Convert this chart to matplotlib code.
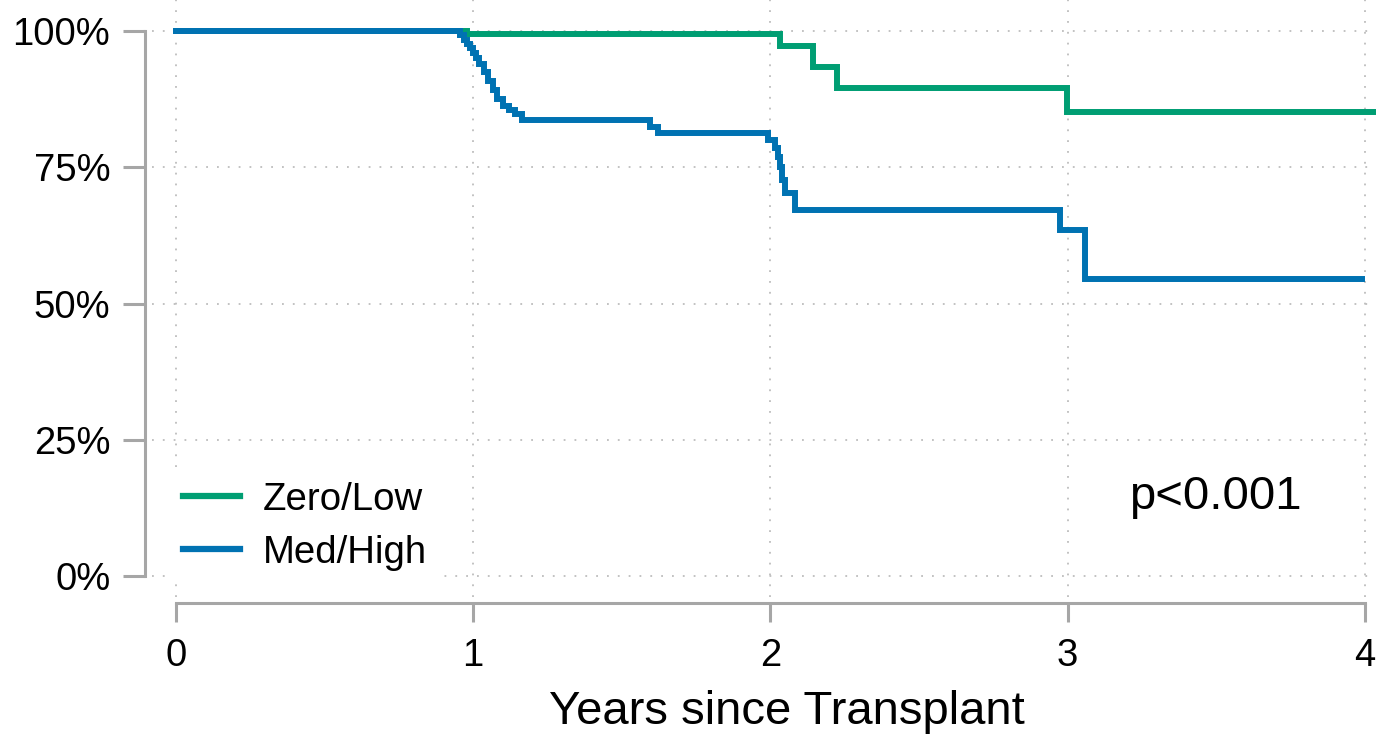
import matplotlib.pyplot as plt
from matplotlib.lines import Line2D

plt.rcParams['font.family'] = ['Liberation Sans', 'DejaVu Sans']

# Kaplan-Meier steps (years, % surviving)
green_t = [0, 0.98, 2.032, 2.143, 2.224, 2.998, 4.2]
green_s = [100, 99.5, 97.2, 93.4, 89.5, 85.1, 85.1]

blue_t = [0, 0.955, 0.97, 0.98, 0.99, 1.0, 1.01, 1.02, 1.035, 1.05, 1.065, 1.08, 1.10, 1.12, 1.14, 1.165,
          1.595, 1.62,
          1.992, 2.015, 2.025, 2.032, 2.039, 2.049, 2.082,
          2.974, 3.058, 3.99]
blue_s = [100, 99.2, 98.4, 97.6, 96.8, 95.9, 95.0, 94.0, 92.5, 90.8, 89.2, 87.6, 86.2, 85.5, 84.7, 83.6,
          82.4, 81.3,
          80.0, 78.5, 76.9, 75.0, 72.7, 70.3, 67.2,
          63.5, 54.5, 54.5]

groups = ['Zero/Low', 'Med/High']
colors = ['#009E73', '#0072B2']
x_ticks = [0, 1, 2, 3, 4]
y_ticks = [0, 25, 50, 75, 100]
y_labels = ['0%', '25%', '50%', '75%', '100%']

W, H = 1376, 737
fig = plt.figure(figsize=(W / 100, H / 100), dpi=100)
ax = fig.add_axes([152 / W, 1 - 597 / H, 1 - 152 / W, 597 / H])

ax.step(green_t, green_s, where='post', color=colors[0], lw=4.3, solid_joinstyle='miter')
ax.step(blue_t, blue_s, where='post', color=colors[1], lw=4.3, solid_joinstyle='miter')

ax.set_xlim((152 - 176) / 297.25, (W - 176) / 297.25)
ax.set_ylim((576 - 597) / 5.45, 576 / 5.45)

ax.set_xticks(x_ticks)
ax.set_yticks(y_ticks)
ax.set_yticklabels(y_labels)
ax.grid(True, color='#bdbdbd', lw=1.3, linestyle=(0, (1, 5)))
ax.set_axisbelow(True)

for s in ['top', 'right']:
    ax.spines[s].set_visible(False)
ax.spines['left'].set_position(('outward', 5))
ax.spines['bottom'].set_position(('outward', 4.5))
ax.spines['left'].set_bounds(0, 100)
ax.spines['bottom'].set_bounds(0, 4)
for s in ['left', 'bottom']:
    ax.spines[s].set_color('#a6a6a6')
    ax.spines[s].set_linewidth(2.2)
ax.tick_params(axis='both', colors='#a6a6a6', width=2.2, labelcolor='black', labelsize=27.5)
ax.tick_params(axis='x', length=14, pad=11)
ax.tick_params(axis='y', length=16, pad=9)

fig.text(787 / W, 1 - 712 / H, 'Years since Transplant', fontsize=34, ha='center', va='center')

ax.text(3.495, 14.5, 'p<0.001', fontsize=34, ha='center', va='center')

handles = [Line2D([], [], color=c, lw=4.5) for c in colors]
leg = ax.legend(handles, groups, loc='upper left', bbox_to_anchor=(171 / W, 1 - 470 / H),
                bbox_transform=fig.transFigure, fontsize=27.6, frameon=True, facecolor='white',
                edgecolor='none', framealpha=1, fancybox=False, handlelength=1.5, handletextpad=0.6,
                labelspacing=0.45, borderpad=0.3, borderaxespad=0)

fig.savefig('out.png', dpi=100)
